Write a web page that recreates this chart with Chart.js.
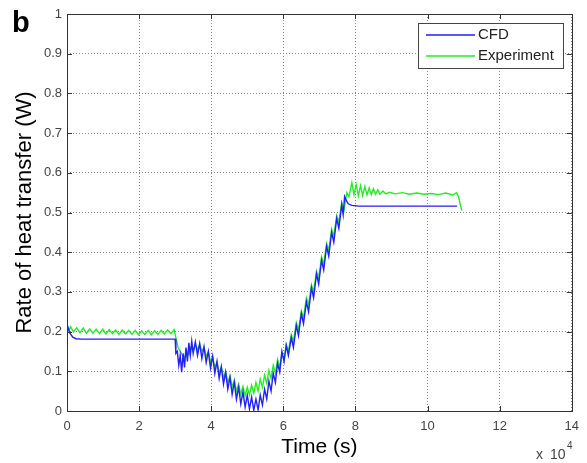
<!DOCTYPE html>
<html>
<head>
<meta charset="utf-8">
<script src="https://cdn.jsdelivr.net/npm/chart.js@4.4.1/dist/chart.umd.min.js"></script>
<style>
    html, body {
        margin: 0;
        padding: 0;
        background: #fff;
    }
    #wrap {
        width: 587px;
        height: 463px;
        position: relative;
    }
</style>
</head>
<body>
<div id="wrap"><canvas id="heatChart"></canvas></div>
<script>
// time in units of 10^4 s, rate in W
const xTicks = [0, 2, 4, 6, 8, 10, 12, 14];
const yTicks = [0, 0.1, 0.2, 0.3, 0.4, 0.5, 0.6, 0.7, 0.8, 0.9, 1];

const cfdTime = [
    0, 0.08, 0.16, 0.25, 0.4, 2.98,
    3.00, 3.02, 3.06, 3.10, 3.14, 3.18, 3.22, 3.26, 3.30, 3.34, 3.38, 3.42, 3.46, 3.50,
    3.56, 3.62, 3.68, 3.74, 3.80, 3.86, 3.92, 3.98, 4.04, 4.10, 4.16, 4.22, 4.28, 4.34,
    4.40, 4.46, 4.52, 4.58, 4.64, 4.70, 4.76, 4.82, 4.88, 4.94, 5.00, 5.06, 5.12, 5.18,
    5.24, 5.30, 5.36, 5.42, 5.48, 5.54, 5.60, 5.66, 5.72, 5.78, 5.84, 5.90, 5.96, 6.02,
    6.08, 6.14, 6.22, 6.28, 6.36, 6.42, 6.50, 6.56, 6.64, 6.70, 6.78, 6.84, 6.92, 6.98,
    7.06, 7.12, 7.20, 7.26, 7.34, 7.40, 7.48, 7.54, 7.62, 7.66, 7.70, 7.75, 7.80, 7.90,
    8.10, 10.82
];
const cfdRate = [
    0.218, 0.196, 0.186, 0.182, 0.181, 0.181,
    0.181, 0.145, 0.150, 0.115, 0.140, 0.098, 0.145, 0.110, 0.160, 0.125, 0.172, 0.140, 0.176, 0.145,
    0.174, 0.140, 0.170, 0.132, 0.162, 0.122, 0.150, 0.108, 0.138, 0.095, 0.125, 0.082, 0.112, 0.068,
    0.098, 0.055, 0.085, 0.042, 0.072, 0.030, 0.060, 0.018, 0.048, 0.010, 0.040, 0.005, 0.035, 0.002,
    0.030, 0.003, 0.040, 0.015, 0.055, 0.030, 0.075, 0.050, 0.095, 0.072, 0.120, 0.098, 0.150, 0.125,
    0.165, 0.140, 0.185, 0.160, 0.215, 0.190, 0.245, 0.220, 0.275, 0.250, 0.310, 0.285, 0.345, 0.320,
    0.380, 0.355, 0.415, 0.390, 0.450, 0.425, 0.485, 0.460, 0.520, 0.495, 0.540, 0.530, 0.522, 0.518,
    0.516, 0.516
];

const expTime = [
    0.00, 0.05, 0.10, 0.18, 0.27, 0.36, 0.45, 0.54, 0.63, 0.72, 0.81, 0.90, 0.99, 1.08,
    1.17, 1.26, 1.35, 1.44, 1.53, 1.62, 1.71, 1.80, 1.89, 1.98, 2.07, 2.16, 2.25, 2.34,
    2.43, 2.52, 2.61, 2.70, 2.79, 2.88, 2.97,
    3.02, 3.08, 3.14, 3.20, 3.26, 3.32, 3.38, 3.44, 3.50, 3.56, 3.62, 3.68, 3.74, 3.80,
    3.86, 3.92, 3.98, 4.04, 4.10, 4.16, 4.22, 4.28, 4.34, 4.40, 4.46, 4.52, 4.58, 4.64,
    4.70, 4.76, 4.82, 4.88, 4.94, 5.00, 5.06, 5.12, 5.18, 5.24, 5.30, 5.36, 5.42, 5.48,
    5.54, 5.60, 5.66, 5.72, 5.78, 5.84, 5.90, 5.96, 6.02, 6.08, 6.14, 6.22, 6.28, 6.36,
    6.42, 6.50, 6.56, 6.64, 6.70, 6.78, 6.84, 6.92, 6.98, 7.06, 7.12, 7.20, 7.26, 7.34,
    7.40, 7.48, 7.54, 7.62, 7.68, 7.76, 7.82, 7.90, 7.96, 8.02, 8.08, 8.14, 8.20, 8.26,
    8.32, 8.38, 8.44, 8.50, 8.56, 8.62, 8.68, 8.76, 8.84, 8.95, 9.10, 9.30, 9.50, 9.70,
    9.90, 10.10, 10.30, 10.50, 10.70, 10.80, 10.86, 10.92, 10.95
];
const expRate = [
    0.218, 0.203, 0.212, 0.199, 0.210, 0.197, 0.209, 0.196, 0.207, 0.196, 0.206, 0.195, 0.206, 0.194,
    0.205, 0.195, 0.204, 0.193, 0.204, 0.194, 0.203, 0.193, 0.203, 0.192, 0.202, 0.193, 0.203, 0.192,
    0.202, 0.193, 0.203, 0.194, 0.204, 0.195, 0.205,
    0.185, 0.160, 0.150, 0.140, 0.135, 0.150, 0.142, 0.160, 0.150, 0.167, 0.155, 0.168, 0.150, 0.160,
    0.138, 0.148, 0.125, 0.135, 0.110, 0.122, 0.097, 0.110, 0.085, 0.098, 0.072, 0.088, 0.060, 0.078,
    0.050, 0.068, 0.042, 0.062, 0.038, 0.060, 0.040, 0.065, 0.045, 0.072, 0.050, 0.080, 0.060, 0.090,
    0.070, 0.102, 0.082, 0.115, 0.095, 0.130, 0.110, 0.145, 0.128, 0.168, 0.150, 0.192, 0.175, 0.222,
    0.205, 0.252, 0.235, 0.285, 0.268, 0.318, 0.300, 0.352, 0.335, 0.388, 0.370, 0.422, 0.405, 0.458,
    0.440, 0.492, 0.475, 0.525, 0.505, 0.550, 0.540, 0.575, 0.545, 0.570, 0.542, 0.568, 0.543, 0.565,
    0.544, 0.562, 0.545, 0.560, 0.546, 0.557, 0.546, 0.554, 0.547, 0.551, 0.547, 0.550, 0.546, 0.549,
    0.546, 0.548, 0.545, 0.549, 0.544, 0.550, 0.540, 0.515, 0.505
];

const cfdColor = "#1f1fff";
const expColor = "#22ee22";
const fontFamily = "'Liberation Sans', Arial, sans-serif";

function toPoints(xs, ys) {
    return xs.map((x, i) => ({x: x, y: ys[i]}));
}

// frame, inner tick marks, legend and the extra labels (MATLAB look)
const matlabDecor = {
    id: "matlabDecor",
    afterDraw(chart) {
        const ctx = chart.ctx;
        const area = chart.chartArea;
        const xs = chart.scales.x;
        const ys = chart.scales.y;
        ctx.save();

        // box
        ctx.strokeStyle = "#333";
        ctx.lineWidth = 1;
        ctx.strokeRect(Math.round(area.left) + 0.5, Math.round(area.top) + 0.5,
            Math.round(area.right - area.left), Math.round(area.bottom - area.top));

        // inner ticks
        const tl = 5;
        ctx.beginPath();
        xTicks.forEach((v) => {
            let px = Math.round(xs.getPixelForValue(v)) + 0.5;
            ctx.moveTo(px, area.bottom);
            ctx.lineTo(px, area.bottom - tl);
            ctx.moveTo(px, area.top);
            ctx.lineTo(px, area.top + tl);
        });
        yTicks.forEach((v) => {
            let py = Math.round(ys.getPixelForValue(v)) + 0.5;
            ctx.moveTo(area.left, py);
            ctx.lineTo(area.left + tl, py);
            ctx.moveTo(area.right, py);
            ctx.lineTo(area.right - tl, py);
        });
        ctx.stroke();

        // legend
        const lx = 418, ly = 23, lw = 145, lh = 45;
        ctx.fillStyle = "#fff";
        ctx.fillRect(lx, ly, lw, lh);
        ctx.strokeStyle = "#444";
        ctx.strokeRect(lx + 0.5, ly + 0.5, lw, lh);
        ctx.font = "15px " + fontFamily;
        ctx.textBaseline = "middle";
        chart.data.datasets.forEach((ds, i) => {
            let yy = ly + 12 + i * 21;
            ctx.strokeStyle = ds.borderColor;
            ctx.lineWidth = 1.5;
            ctx.beginPath();
            ctx.moveTo(lx + 8, yy);
            ctx.lineTo(lx + 57, yy);
            ctx.stroke();
            ctx.fillStyle = "#222";
            ctx.fillText(ds.label, lx + 60, yy);
        });

        // axis titles
        ctx.fillStyle = "#000";
        ctx.textBaseline = "alphabetic";
        ctx.textAlign = "center";
        ctx.font = "21px " + fontFamily;
        ctx.fillText("Time (s)", (area.left + area.right) / 2, 453);

        ctx.save();
        ctx.translate(31, (area.top + area.bottom) / 2);
        ctx.rotate(-Math.PI / 2);
        ctx.font = "22px " + fontFamily;
        ctx.fillText("Rate of heat transfer (W)", 0, 0);
        ctx.restore();

        // panel letter
        ctx.textAlign = "left";
        ctx.font = "bold 29px " + fontFamily;
        ctx.fillText("b", 12, 32);

        // exponent note
        ctx.fillStyle = "#444";
        ctx.font = "14px " + fontFamily;
        ctx.fillText("x", 536, 459);
        ctx.fillText("10", 550, 459);
        ctx.font = "10px " + fontFamily;
        ctx.fillText("4", 567, 449);

        ctx.restore();
    }
};

const ctx = document.getElementById("heatChart");

new Chart(ctx, {
    type: "line",
    data: {
        datasets: [
            {
                label: "CFD",
                data: toPoints(cfdTime, cfdRate),
                borderColor: cfdColor,
                borderWidth: 1.4,
                pointRadius: 0,
                tension: 0,
            },
            {
                label: "Experiment",
                data: toPoints(expTime, expRate),
                borderColor: expColor,
                borderWidth: 1.4,
                pointRadius: 0,
                tension: 0,
            },
        ],
    },
    options: {
        responsive: true,
        maintainAspectRatio: false,
        animation: false,
        layout: {
            padding: {top: 14, right: 15, left: 0, bottom: 0},
        },
        scales: {
            x: {
                type: "linear",
                min: 0,
                max: 14,
                afterFit: (scale) => {
                    scale.height = 52;
                },
                afterBuildTicks: (scale) => {
                    scale.ticks = xTicks.map((v) => ({value: v}));
                },
                grid: {
                    color: "#888",
                    drawTicks: false,
                },
                border: {
                    display: false,
                    dash: [1, 2],
                },
                ticks: {
                    padding: 8,
                    color: "#444",
                    font: {family: fontFamily, size: 13},
                    callback: (v) => String(v),
                },
            },
            y: {
                min: 0,
                max: 1,
                afterFit: (scale) => {
                    scale.width = 67;
                },
                afterBuildTicks: (scale) => {
                    scale.ticks = yTicks.map((v) => ({value: v}));
                },
                grid: {
                    color: "#888",
                    drawTicks: false,
                },
                border: {
                    display: false,
                    dash: [1, 2],
                },
                ticks: {
                    padding: 5,
                    color: "#444",
                    font: {family: fontFamily, size: 13},
                    callback: (v) => String(Math.round(v * 10) / 10),
                },
            },
        },
        plugins: {
            legend: {display: false},
            tooltip: {enabled: false},
        },
    },
    plugins: [matlabDecor],
});
</script>
</body>
</html>
